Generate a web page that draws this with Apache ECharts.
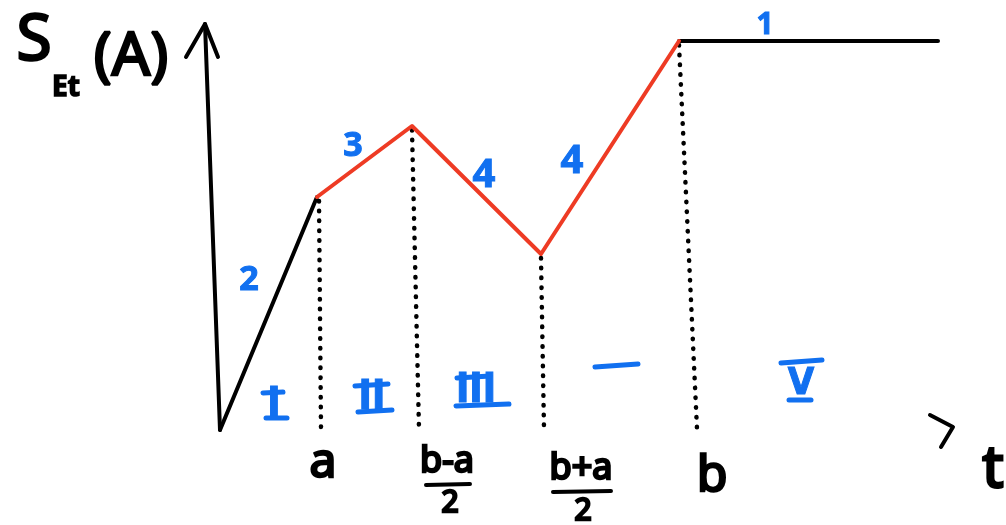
<!DOCTYPE html>
<html>
<head>
<meta charset="utf-8">
<style>
  html, body { margin: 0; padding: 0; background: #fff; }
  #chart { width: 1006px; height: 525px; }
</style>
<script src="https://cdn.jsdelivr.net/npm/echarts@6/dist/echarts.min.js"></script>
</head>
<body>
<div id="chart"></div>
<script>
// S_Et(A) as a piecewise-linear function of t (sketch units, 1 unit = 10 px)
const risePart   = [[0, 0], [9.7, 23.3]];                                   // segment 2
const middlePart = [[9.7, 23.3], [19.2, 30.4], [32.1, 17.6], [45.9, 38.9]]; // segments 3, 4, 4
const flatPart   = [[45.9, 38.9], [71.8, 38.9]];                             // segment 1

// hand-drawn axes
const verticalAxis = [[0, 0], [-1.5, 40.6]];
const verticalHead = [[-3.4, 37.3], [-1.5, 40.6], [-0.2, 37.3]];
const timeHead     = [[71.0, 1.5], [73.3, 0.3], [72.1, -1.7]];

// dotted drops from the breakpoints to the t axis: a, (b-a)/2, (b+a)/2, b
const dropLines = [
  [[9.9, 22.9], [10.1, 0.1]],
  [[19.2, 30.0], [19.9, 0.1]],
  [[32.1, 17.2], [32.4, 0.1]],
  [[45.9, 38.5], [47.7, 0.1]]
];

const segmentLabels = ['2', '3', '4', '4', '1'];
const regionLabels  = ['I', 'II', 'III', 'V'];
const tickLabels    = ['a', 'b-a', 'b+a', 'b'];

const INK = '#000000';
const RED = '#EE3B24';
const BLUE = '#1170F0';
const HAND = '"Noto Sans", "DejaVu Sans", sans-serif';
const NARROW = '"Liberation Sans Narrow", "DejaVu Sans Condensed", sans-serif';

function stroke(data, color, width) {
  return {
    type: 'line', data: data, symbol: 'none', silent: true,
    lineStyle: { color: color, width: width, cap: 'round', join: 'round' }
  };
}

const series = [
  stroke(verticalAxis, INK, 4),
  stroke(verticalHead, INK, 4),
  stroke(timeHead, INK, 4),
  stroke(risePart, INK, 4),
  stroke(flatPart, INK, 4),
  stroke(middlePart, RED, 4)
];
dropLines.forEach(function (d) {
  series.push({
    type: 'line', data: d, symbol: 'none', silent: true, z: 1,
    lineStyle: { color: INK, width: 4.5, type: [0.5, 9.3], cap: 'round' }
  });
});

function txt(x, y, text, size, color, opts) {
  opts = opts || {};
  return {
    type: 'text', x: x, y: y, silent: true,
    style: {
      text: text, fill: color,
      font: (opts.weight || 'bold') + ' ' + size + 'px ' + (opts.family || HAND),
      align: 'center', verticalAlign: 'middle',
      stroke: color, lineWidth: opts.lw == null ? 1 : opts.lw
    }
  };
}
function bar(x1, y1, x2, y2, color, w) {
  return {
    type: 'line', silent: true,
    shape: { x1: x1, y1: y1, x2: x2, y2: y2 },
    style: { stroke: color, lineWidth: w, lineCap: 'round' }
  };
}

const graphic = [
  // axis title S_Et(A)
  txt(34, 42, 'S', 64, INK, { weight: 'normal', lw: 2.5 }),
  txt(66, 88, 'Et', 28, INK, { lw: 1.5 }),
  txt(131, 58, '(A)', 60, INK, { weight: 'normal', lw: 2.5 }),
  txt(993, 470, 't', 58, INK, { weight: 'normal', lw: 3 }),

  // slope numbers on the segments
  txt(249, 280, segmentLabels[0], 34, BLUE),
  txt(353, 146, segmentLabels[1], 34, BLUE),
  txt(484, 176, segmentLabels[2], 40, BLUE),
  txt(572, 162, segmentLabels[3], 40, BLUE),
  txt(765, 25, segmentLabels[4], 30, BLUE),

  // regions I, II, III, (IV), V with hand-drawn serif bars
  txt(274, 406, regionLabels[0], 40, BLUE, { family: NARROW }),
  bar(263, 393, 283, 392, BLUE, 5),
  bar(266, 418, 287, 418, BLUE, 5),

  txt(372, 399, regionLabels[1], 40, BLUE, { family: NARROW }),
  bar(355, 386, 388, 384, BLUE, 5),
  bar(358, 412, 392, 410, BLUE, 5),

  txt(476, 392, regionLabels[2], 40, BLUE, { family: NARROW }),
  bar(457, 378, 490, 376, BLUE, 5),
  bar(456, 406, 509, 404, BLUE, 5),

  bar(595, 367, 638, 364, BLUE, 5),

  bar(781, 363, 822, 360, BLUE, 5),
  txt(801, 384, regionLabels[3], 38, BLUE, { family: NARROW }),
  bar(789, 400, 811, 400, BLUE, 5),

  // t positions
  txt(323, 463, tickLabels[0], 48, INK, { weight: 'normal', lw: 2.5 }),
  txt(447, 462, tickLabels[1], 36, INK, { weight: 'normal', lw: 2.5 }),
  bar(426, 485, 470, 484, INK, 4),
  txt(450, 503, '2', 30, INK, { weight: 'normal', lw: 2.5 }),
  txt(581, 469, tickLabels[2], 36, INK, { weight: 'normal', lw: 2.5 }),
  bar(553, 492, 611, 491, INK, 4),
  txt(583, 511, '2', 30, INK, { weight: 'normal', lw: 2.5 }),
  txt(712, 477, tickLabels[3], 50, INK, { weight: 'normal', lw: 2.5 })
];

const chart = echarts.init(document.getElementById('chart'), null, { renderer: 'canvas' });
chart.setOption({
  animation: false,
  backgroundColor: '#ffffff',
  grid: { left: 180, right: 6, top: 0, bottom: 0 },
  xAxis: { type: 'value', min: -4, max: 78, show: false },
  yAxis: { type: 'value', min: -9.5, max: 43, show: false },
  series: series,
  graphic: graphic
});
</script>
</body>
</html>
